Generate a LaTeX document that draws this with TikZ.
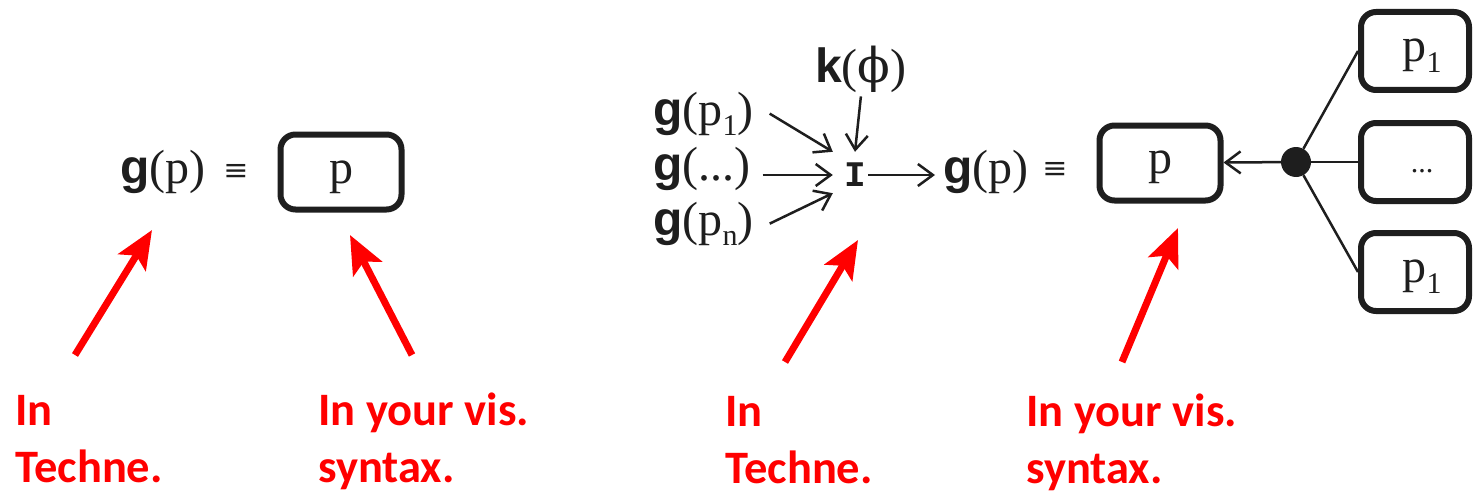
\documentclass[tikz,border=0pt]{standalone}
\usepackage{fontspec}
\setmainfont{Liberation Serif}
\newfontfamily\gsans{Liberation Sans}
\newfontfamily\labelfont{Carlito}
\newfontfamily\opfont{Liberation Mono}
\newfontfamily\symfont{DejaVu Serif}
\usetikzlibrary{arrows.meta,positioning,calc}
\definecolor{markred}{RGB}{255,0,0}
\definecolor{inkgray}{RGB}{30,30,30}
\newcommand{\gb}[1]{{\gsans\bfseries #1}}
\newcommand{\lsub}[1]{\raisebox{-0.22em}{\fontsize{30}{30}\selectfont #1}}

\begin{document}
\begin{tikzpicture}[x=1pt,y=-1pt,
    every node/.style={font=\fontsize{48}{52}\selectfont, inner sep=0pt, text=inkgray},
    pbox/.style={draw=inkgray, line width=6pt, rounded corners=15pt,
      minimum width=121pt, minimum height=75pt, text height=21pt, text depth=0pt},
    sbox/.style={pbox, minimum width=108pt, minimum height=78pt},
    eqv/.style={font=\symfont\fontsize{30}{30}\selectfont},
    arr/.style={-{Straight Barb[length=15pt,width=22pt]}, line width=2.5pt, draw=inkgray},
    redarr/.style={-{Stealth[length=38pt,width=32pt,inset=8pt]}, line width=7pt, markred},
    redlbl/.style={font=\labelfont\bfseries\fontsize{46.5}{57}\selectfont,
      text=markred, align=left, anchor=base west}]
  \fill[white] (0,0) rectangle (1476,495);
  \useasboundingbox (0,0) rectangle (1476,495);

  % Left: single process
  \node[anchor=base] (gl) at (163,183) {\gb{g}(p)};
  \node[eqv] (eql) at (236,172) {≡};
  \node[pbox, text height=23pt] (boxl) at (341,172) {p};

  % Middle: Techne composition
  \node[anchor=base west] (kphi) at (815,82) {\gb{k}({\symfont ϕ})};
  \node[anchor=base west] (gpa) at (653,125) {\gb{g}(p\lsub{1})};
  \node[anchor=base west] (gdots) at (653,180) {\gb{g}(...)};
  \node[anchor=base west] (gpn) at (653,235) {\gb{g}(p\lsub{n})};
  \node[minimum width=44pt, minimum height=46pt,
    font=\opfont\bfseries\fontsize{36}{36}\selectfont] (join) at (855,175) {I};
  \node[anchor=base west] (gpout) at (943,183) {\gb{g}(p)};
  \node[eqv] (eqr) at (1055,170) {≡};
  \draw[arr] ([xshift=16pt]gpa.east) -- (join.north west);
  \draw[arr, shorten <=12pt] (gdots.east |- join.west) -- (join.west);
  \draw[arr] ([xshift=16pt]gpn.east) -- ([yshift=5pt]join.south west);
  \draw[arr] ([yshift=-4pt]kphi.south) -- (join.north);
  \draw[arr, shorten >=8pt] ([xshift=-9pt]join.east) -- (join.east -| gpout.west);

  % Right: visual syntax
  \node[pbox] (boxr) at (1160,163) {p};
  \node[circle, fill=inkgray, minimum size=30pt] (dot) at (1296,162) {};
  \node[sbox] (sub1) at (1415,51) {\hspace*{14pt}p\lsub{1}};
  \node[sbox, font=\fontsize{30}{30}\selectfont, text height=20pt] (sub2) at (1415,162) {\hspace*{14pt}...};
  \node[sbox] (sub3) at (1415,272) {\hspace*{14pt}p\lsub{1}};
  \draw[arr] (dot) -- (boxr);
  \foreach \b in {sub1,sub2,sub3}
    \draw[line width=2.5pt, inkgray] (dot) -- (\b.west);

  % Red pointers
  \coordinate (tailA) at (75,355);   \coordinate (tipA) at (152,230);
  \coordinate (tailB) at (412,355);  \coordinate (tipB) at (350,235);
  \coordinate (tailC) at (785,362);  \coordinate (tipC) at (858,240);
  \coordinate (tailD) at (1122,362); \coordinate (tipD) at (1178,228);
  \foreach \p in {A,B,C,D}
    \draw[redarr] (tail\p) -- (tip\p);
  \node[redlbl] (lblA) at (15,482) {In\\Techne.};
  \node[redlbl] (lblB) at (318,482) {In your vis.\\syntax.};
  \node[redlbl] (lblC) at (725,483) {In\\Techne.};
  \node[redlbl] (lblD) at (1026,483) {In your vis.\\syntax.};
\end{tikzpicture}
\end{document}
